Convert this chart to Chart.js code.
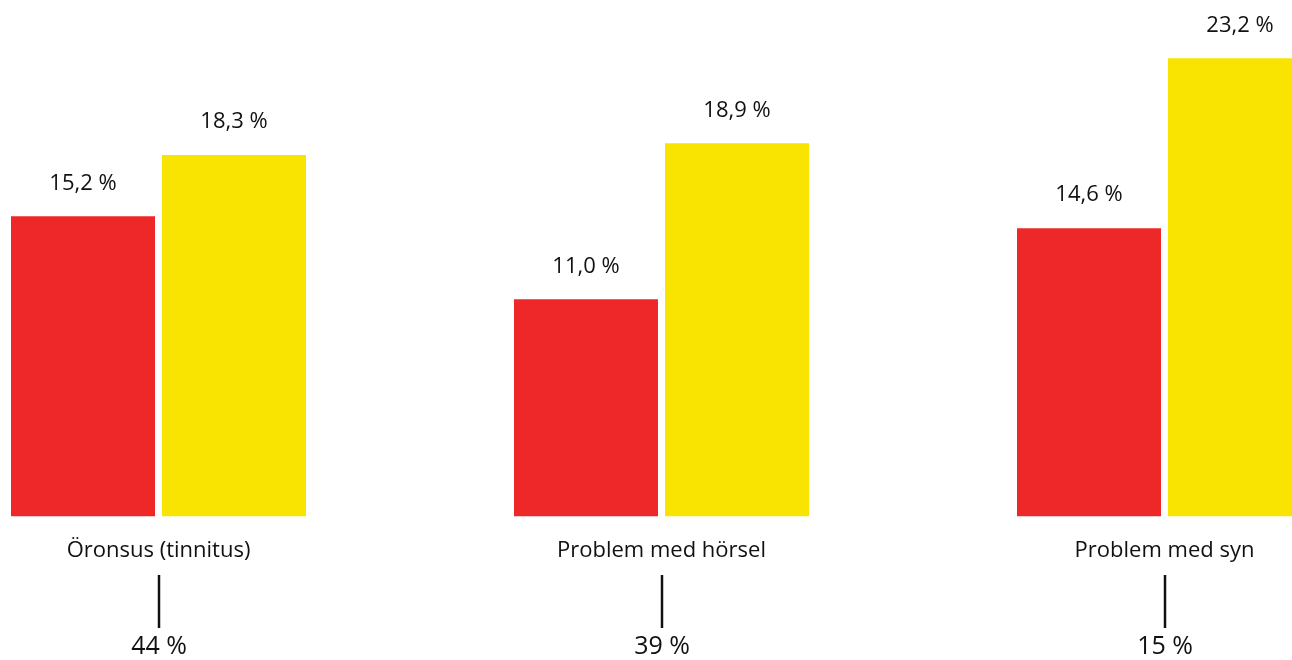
<!DOCTYPE html>
<html>
<head>
<meta charset="utf-8">
<script src="https://cdn.jsdelivr.net/npm/chart.js@4"></script>
<style>
  html, body { margin: 0; padding: 0; background: #fff; overflow: hidden; }
  #wrap { position: absolute; left: -93px; top: 0; width: 1509px; height: 660px; }
</style>
</head>
<body>
<div id="wrap"><canvas id="chart" width="1509" height="660"></canvas></div>
<script>
const categories = ["Öronsus (tinnitus)", "Problem med hörsel", "Problem med syn"];
const redValues = [15.2, 11.0, 14.6];
const yellowValues = [18.3, 18.9, 23.2];
const shares = ["44 %", "39 %", "15 %"];

const FONT = "'Open Sans', sans-serif";
const fmt = v => v.toFixed(1).replace(".", ",") + " %";

// value labels above each bar
const barLabels = {
  id: "barLabels",
  afterDatasetsDraw(chart) {
    const ctx = chart.ctx;
    ctx.save();
    ctx.font = "22px " + FONT;
    ctx.fillStyle = "#111";
    ctx.textAlign = "center";
    ctx.textBaseline = "middle";
    chart.data.datasets.forEach((ds, i) => {
      chart.getDatasetMeta(i).data.forEach((bar, j) => {
        ctx.fillText(fmt(ds.data[j]), bar.x, bar.y - 33);
      });
    });
    ctx.restore();
  }
};

// stem and share below each category label
const shareMarks = {
  id: "shareMarks",
  afterDraw(chart) {
    const ctx = chart.ctx;
    const x = chart.scales.x;
    ctx.save();
    ctx.strokeStyle = "#111";
    ctx.lineWidth = 2.5;
    ctx.fillStyle = "#111";
    ctx.font = "25px " + FONT;
    ctx.textAlign = "center";
    ctx.textBaseline = "middle";
    shares.forEach((s, i) => {
      const cx = Math.round(x.getPixelForValue(i));
      ctx.beginPath();
      ctx.moveTo(cx, 575);
      ctx.lineTo(cx, 628);
      ctx.stroke();
      ctx.fillText(s, cx, 647);
    });
    ctx.restore();
  }
};

new Chart(document.getElementById("chart"), {
  type: "bar",
  data: {
    labels: categories,
    datasets: [
      { data: redValues, backgroundColor: "#EE2828", categoryPercentage: 0.6004, barPercentage: 0.9536 },
      { data: yellowValues, backgroundColor: "#F9E300", categoryPercentage: 0.6004, barPercentage: 0.9536 }
    ]
  },
  options: {
    responsive: false,
    animation: false,
    layout: { padding: { top: 5, bottom: 83, left: 0, right: 0 } },
    plugins: { legend: { display: false }, tooltip: { enabled: false } },
    scales: {
      x: {
        grid: { display: false },
        border: { display: false },
        ticks: { color: "#111", padding: 13, font: { size: 22, family: FONT } }
      },
      y: { display: false, min: 0, max: 25.9 }
    }
  },
  plugins: [barLabels, shareMarks]
});
</script>
</body>
</html>
